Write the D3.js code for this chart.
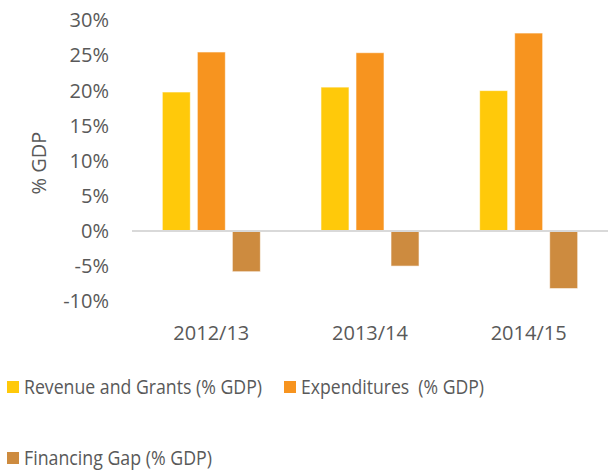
<!DOCTYPE html>
<html lang="en">
<head>
    <meta charset="UTF-8">
    <title>fiscal-bars</title>
    <script src="https://cdn.jsdelivr.net/npm/d3@7"></script>
    <style>
        body { margin: 0; background: #fff; }
        text { font-family: "Open Sans", sans-serif; fill: #595959; }
    </style>
</head>
<body>
    <svg class="chart"></svg>
</body>
<script>
    // data
    var years = ['2012/13', '2013/14', '2014/15'];
    var seriesNames = ['Revenue and Grants (% GDP)', 'Expenditures  (% GDP)', 'Financing Gap (% GDP)'];
    var revenue = [19.8, 20.5, 20.0];
    var expenditures = [25.5, 25.4, 28.2];
    var gap = [-5.8, -5.0, -8.2];
    var yTicks = [-10, -5, 0, 5, 10, 15, 20, 25, 30];
    var colors = ['#FFC90A', '#F7941F', '#CD8B3F'];

    var width = 609, height = 470;
    var series = [revenue, expenditures, gap];

    var svg = d3.select('.chart')
        .attr('width', width)
        .attr('height', height);

    // scales
    var x0 = d3.scaleBand()
        .domain(years)
        .range([132, 608])
        .paddingInner(0.382)
        .paddingOuter(0.191);

    var x1 = d3.scaleBand()
        .domain(d3.range(series.length))
        .range([0, x0.bandwidth()])
        .paddingInner(0.2);

    var y = d3.scaleLinear()
        .domain([-10, 30])
        .range([301.2, 20.4]);

    // y axis labels
    var yAxis = svg.append('g')
        .attr('transform', 'translate(109,0)')
        .call(d3.axisLeft(y).tickValues(yTicks).tickSize(0).tickPadding(0)
            .tickFormat(function (d) { return d + '%'; }));
    yAxis.select('.domain').remove();
    yAxis.selectAll('text')
        .attr('font-size', 20)
        .attr('font-family', '"Open Sans", sans-serif')
        .attr('fill', '#595959');

    // axis title
    svg.append('text')
        .attr('transform', 'translate(39,163) rotate(-90)')
        .attr('text-anchor', 'middle')
        .attr('dy', '.35em')
        .attr('font-size', 20)
        .text('% GDP');

    // bars
    var groups = svg.selectAll('g.year')
        .data(years)
        .enter()
        .append('g')
        .attr('class', 'year')
        .attr('transform', function (d) { return 'translate(' + x0(d) + ',0)'; });

    groups.selectAll('rect')
        .data(function (d, i) {
            return series.map(function (s, k) { return { k: k, v: s[i] }; });
        })
        .enter()
        .append('rect')
        .attr('x', function (d) { return x1(d.k); })
        .attr('y', function (d) { return y(Math.max(0, d.v)); })
        .attr('width', x1.bandwidth())
        .attr('height', function (d) { return Math.abs(y(d.v) - y(0)); })
        .attr('fill', function (d) { return colors[d.k]; })
        .attr('stroke', '#fff')
        .attr('stroke-opacity', 0.6)
        .attr('stroke-width', 1);

    // zero line
    svg.append('line')
        .attr('x1', 132)
        .attr('x2', 608)
        .attr('y1', y(0))
        .attr('y2', y(0))
        .attr('stroke', '#D9D9D9')
        .attr('stroke-width', 2.2);

    // category labels
    svg.append('g')
        .selectAll('text')
        .data(years)
        .enter()
        .append('text')
        .attr('x', function (d) { return x0(d) + x0.bandwidth() / 2; })
        .attr('y', 333)
        .attr('dy', '.35em')
        .attr('text-anchor', 'middle')
        .attr('font-size', 20)
        .text(function (d) { return d; });

    // legend (position and text width of each item)
    var legendPos = [[7, 387, 238], [284, 387, 183], [7, 458, 188]];
    var legend = svg.selectAll('g.legend')
        .data(seriesNames)
        .enter()
        .append('g')
        .attr('class', 'legend')
        .attr('transform', function (d, i) { return 'translate(' + legendPos[i][0] + ',' + legendPos[i][1] + ')'; });

    legend.append('rect')
        .attr('x', 0)
        .attr('y', -6)
        .attr('width', 12)
        .attr('height', 12)
        .attr('fill', function (d, i) { return colors[i]; });

    legend.append('text')
        .attr('x', 17)
        .attr('y', 0)
        .attr('dy', '.35em')
        .attr('font-size', 20)
        .attr('textLength', function (d, i) { return legendPos[i][2]; })
        .attr('lengthAdjust', 'spacingAndGlyphs')
        .style('white-space', 'pre')
        .text(function (d) { return d; });
</script>
</html>
